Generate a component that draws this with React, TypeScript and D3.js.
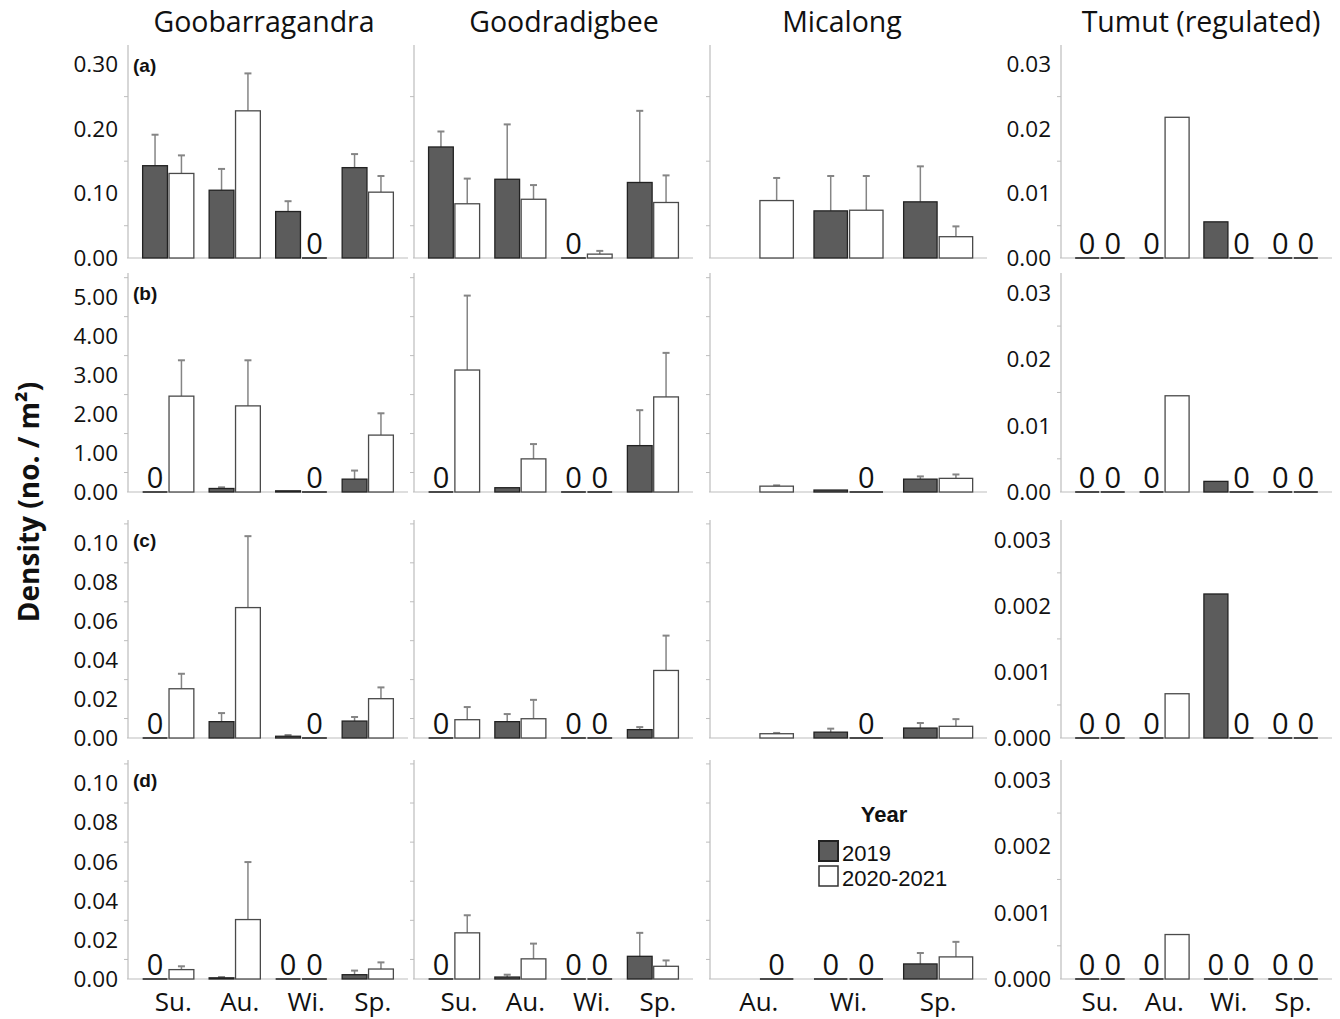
import React from 'react';
import * as d3 from 'd3';

const rivers = ['Goobarragandra', 'Goodradigbee', 'Micalong', 'Tumut (regulated)'];
const seasons = ['Su.', 'Au.', 'Wi.', 'Sp.'];
const micalongSeasons = ['Au.', 'Wi.', 'Sp.'];
const years = ['2019', '2020-2021'];
const panelLetters = ['(a)', '(b)', '(c)', '(d)'];

// each array: rows (a)..(d), one value per season; null = not sampled
const goob2019 = [
  [0.143, 0.105, 0.072, 0.140],
  [0, 0.09, 0.03, 0.33],
  [0, 0.0084, 0.0009, 0.0087],
  [0, 0.0006, 0, 0.0022],
];
const goob2019Err = [
  [0.048, 0.033, 0.016, 0.021],
  [0, 0.03, 0, 0.22],
  [0, 0.0044, 0.0006, 0.0021],
  [0, 0.0004, 0, 0.0021],
];
const goob2020 = [
  [0.131, 0.228, 0, 0.102],
  [2.46, 2.21, 0, 1.46],
  [0.0253, 0.067, 0, 0.0202],
  [0.0048, 0.0304, 0, 0.0051],
];
const goob2020Err = [
  [0.028, 0.058, 0, 0.025],
  [0.92, 1.17, 0, 0.56],
  [0.0077, 0.0367, 0, 0.0058],
  [0.0017, 0.0294, 0, 0.0034],
];

const good2019 = [
  [0.172, 0.122, 0, 0.117],
  [0, 0.11, 0, 1.19],
  [0, 0.0084, 0, 0.0043],
  [0, 0.001, 0, 0.0116],
];
const good2019Err = [
  [0.024, 0.085, 0, 0.111],
  [0, 0, 0, 0.91],
  [0, 0.0039, 0, 0.0013],
  [0, 0.0012, 0, 0.012],
];
const good2020 = [
  [0.084, 0.091, 0.006, 0.086],
  [3.13, 0.85, 0, 2.44],
  [0.0094, 0.0099, 0, 0.0347],
  [0.0236, 0.0103, 0, 0.0065],
];
const good2020Err = [
  [0.039, 0.022, 0.005, 0.042],
  [1.91, 0.38, 0, 1.13],
  [0.0065, 0.0097, 0, 0.0179],
  [0.009, 0.0078, 0, 0.003],
];

const mica2019 = [
  [null, 0.073, 0.087],
  [null, 0.05, 0.33],
  [null, 0.003, 0.0051],
  [null, 0, 0.0077],
];
const mica2019Err = [
  [null, 0.054, 0.055],
  [null, 0, 0.07],
  [null, 0.0018, 0.0026],
  [null, 0, 0.0056],
];
const mica2020 = [
  [0.089, 0.074, 0.033],
  [0.15, 0, 0.35],
  [0.0022, 0, 0.006],
  [0, 0, 0.0113],
];
const mica2020Err = [
  [0.035, 0.053, 0.016],
  [0.02, 0, 0.1],
  [0.0004, 0, 0.0037],
  [0, 0, 0.0077],
];

const tumut2019 = [
  [0, 0, 0.0056, 0],
  [0, 0, 0.0016, 0],
  [0, 0, 0.00218, 0],
  [0, 0, 0, 0],
];
const tumut2020 = [
  [0, 0.0218, 0, 0],
  [0, 0.0145, 0, 0],
  [0, 0.00067, 0, 0],
  [0, 0.00067, 0, 0],
];

// y axis extents and label steps
const mainTops = [0.33, 5.62, 0.112, 0.112];
const mainSteps = [0.1, 1, 0.02, 0.02];
const tumutTops = [0.033, 0.033, 0.0033, 0.0033];
const tumutSteps = [0.01, 0.01, 0.001, 0.001];

const riverData: any[] = [
  [goob2019, goob2019Err, goob2020, goob2020Err],
  [good2019, good2019Err, good2020, good2020Err],
  [mica2019, mica2019Err, mica2020, mica2020Err],
  [tumut2019, null, tumut2020, null],
];

const colX = [[128, 408], [414, 693], [710, 987], [1061, 1332]];
const rowY = [[45, 258], [273, 492], [520, 738], [760, 979]];
const titleX = [264, 564, 842, 1201];

const dark = '#5c5c5c';
const axisColor = '#bdbdbd';
const errColor = '#858585';
const font = '"Open Sans", sans-serif';

export default function App() {
  const width = 1340;
  const height = 1019;
  const items: any[] = [];

  rowY.forEach(([top, base], r) => {
    colX.forEach(([x0, x1], c) => {
      const tumut = c === 3;
      const yMax = tumut ? tumutTops[r] : mainTops[r];
      const step = tumut ? tumutSteps[r] : mainSteps[r];
      const y = d3.scaleLinear().domain([0, yMax]).range([base, top]);
      const cats = c === 2 ? micalongSeasons : seasons;
      const x = d3.scaleBand<string>()
        .domain(cats)
        .range([x0, x1])
        .paddingInner(0.23)
        .paddingOuter(c === 2 ? 0.16 : 0.22);
      const xi = d3.scaleBand<string>().domain(years).range([0, x.bandwidth()]).paddingInner(0.06);
      const key = `${r}-${c}`;

      // axes
      items.push(<line key={`ya${key}`} x1={x0} x2={x0} y1={top} y2={base} stroke={axisColor} strokeWidth={1.2} />);
      items.push(<line key={`xa${key}`} x1={x0 - 1} x2={x1} y1={base} y2={base} stroke={axisColor} strokeWidth={1.2} />);
      const minor = d3.range(step / 2, yMax, step);
      minor.forEach((v, i) => {
        items.push(<line key={`mt${key}-${i}`} x1={x0 - 4} x2={x0} y1={y(v)} y2={y(v)} stroke={axisColor} strokeWidth={1} />);
      });
      if (c === 0 || tumut) {
        const fmt = d3.format(tumut && r >= 2 ? '.3f' : '.2f');
        const labels = d3.range(0, yMax + step * 0.01, step).filter(v => v <= yMax);
        labels.forEach((v, i) => {
          items.push(
            <text key={`tl${key}-${i}`} x={x0 - 10} y={y(v)} dy="0.35em" textAnchor="end"
              fontFamily={font} fontSize={22.5} fill="#111">{fmt(v)}</text>
          );
        });
      }

      const [v19, e19, v20, e20] = riverData[c];
      const series = [
        { year: years[0], vals: v19[r], errs: e19 ? e19[r] : null },
        { year: years[1], vals: v20[r], errs: e20 ? e20[r] : null },
      ];
      cats.forEach((s, si) => {
        series.forEach(({ year, vals, errs }) => {
          const v = vals[si];
          if (v === null || v === undefined) return;
          const bx = (x(s) as number) + (xi(year) as number);
          const bw = xi.bandwidth();
          const isDark = year === years[0];
          const k = `${key}-${si}-${year}`;
          if (v === 0) {
            items.push(<line key={`z${k}`} x1={bx} x2={bx + bw} y1={base} y2={base} stroke="#4a4a4a" strokeWidth={2} />);
            items.push(
              <text key={`zt${k}`} x={bx + bw / 2} y={base - 4} textAnchor="middle"
                fontFamily={font} fontSize={29} fill="#111">0</text>
            );
            return;
          }
          const e = errs ? errs[si] : 0;
          if (e && e > 0) {
            const cx = bx + bw / 2;
            items.push(<line key={`e${k}`} x1={cx} x2={cx} y1={y(v)} y2={y(v + e)} stroke={errColor} strokeWidth={1.5} />);
            items.push(<line key={`ec${k}`} x1={cx - 3.5} x2={cx + 3.5} y1={y(v + e)} y2={y(v + e)} stroke={errColor} strokeWidth={2} />);
          }
          items.push(
            <rect key={`b${k}`} x={bx} y={y(v)} width={bw} height={Math.max(base - y(v), 1)}
              fill={isDark ? dark : '#fff'} stroke={isDark ? '#222' : '#4a4a4a'} strokeWidth={1.3} />
          );
        });
      });

      // category labels under the bottom row
      if (r === 3) {
        const shift = c < 2 ? 5 : 0;
        cats.forEach((s, si) => {
          items.push(
            <text key={`cl${key}-${si}`} x={(x(s) as number) + x.bandwidth() / 2 + shift} y={1011}
              textAnchor="middle" fontFamily={font} fontSize={26} fill="#111">{s}</text>
          );
        });
      }
      if (c === 0) {
        items.push(
          <text key={`pl${r}`} x={133} y={top + 27} fontFamily="'Liberation Sans', Arial, sans-serif"
            fontWeight="bold" fontSize={19} fill="#111">{panelLetters[r]}</text>
        );
      }
    });
  });

  return (
    <svg width={width} height={height} style={{ position: 'absolute', left: 0, top: 0, background: '#fff' }}>
      <rect width={width} height={height} fill="#fff" />
      {rivers.map((name, i) => (
        <text key={name} x={titleX[i]} y={32} textAnchor="middle" fontFamily={font} fontSize={28.5} fill="#111">{name}</text>
      ))}
      <text transform="translate(39,502) rotate(-90)" textAnchor="middle" fontFamily={font}
        fontWeight="bold" fontSize={28} fill="#111">Density (no. / m²)</text>
      {items}
      <g fontFamily="'Liberation Sans', Arial, sans-serif" fill="#111">
        <text x={884} y={822} textAnchor="middle" fontWeight="bold" fontSize={22}>Year</text>
        <rect x={819} y={841} width={19} height={20} fill={dark} stroke="#222" strokeWidth={2} />
        <text x={842} y={861} fontSize={22}>{years[0]}</text>
        <rect x={819} y={866} width={19} height={20} fill="#fff" stroke="#333" strokeWidth={1.5} />
        <text x={842} y={886} fontSize={22}>{years[1]}</text>
      </g>
    </svg>
  );
}
